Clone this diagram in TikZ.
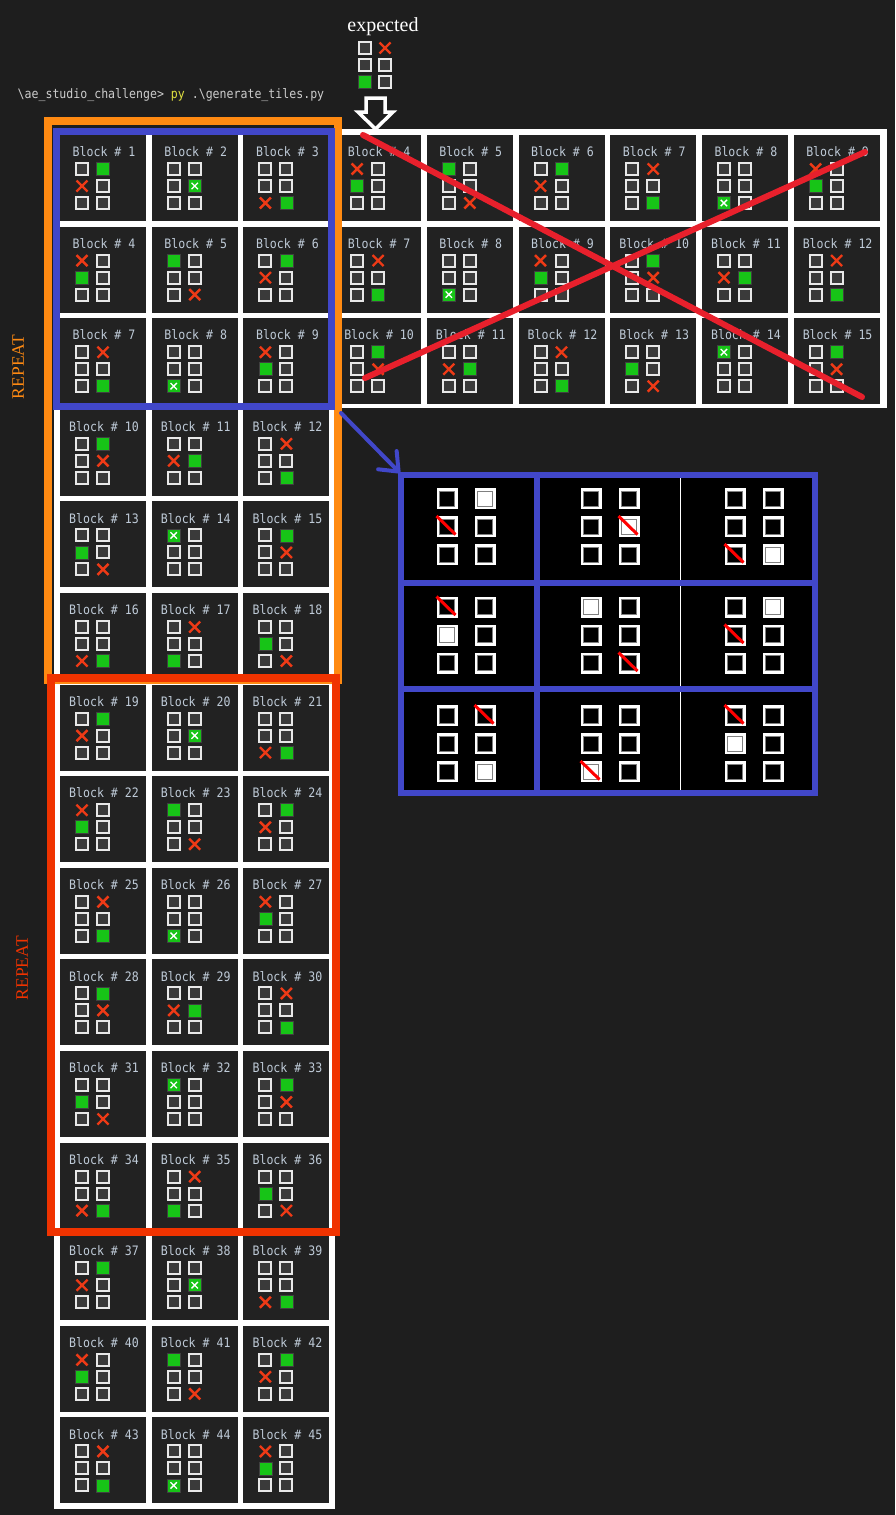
\documentclass[tikz,border=0pt]{standalone}
\usepackage{fontspec}
\usepackage{tikz}
\usetikzlibrary{arrows.meta}

\newfontfamily\monofont[FakeStretch=0.89]{DejaVu Sans Mono}
\newfontfamily\seriffont{Liberation Serif}

\definecolor{bgc}{HTML}{1E1E1E}
\definecolor{tilebgc}{HTML}{222222}
\definecolor{sqgrayc}{HTML}{3A3A3A}
\definecolor{sqwhitec}{HTML}{E8E8E8}
\definecolor{greenc}{HTML}{17C417}
\definecolor{xredc}{HTML}{EE3A16}
\definecolor{labelc}{HTML}{BFCBD8}
\definecolor{orangec}{HTML}{FF8A12}
\definecolor{redboxc}{HTML}{F03300}
\definecolor{bluec}{HTML}{4147C9}
\definecolor{crossc}{HTML}{E8202C}
\definecolor{pyc}{HTML}{E0E040}
\definecolor{cmdc}{HTML}{CCCCCC}

% green cell (pgc,pgr) and cross cell (pxc,pxr) of each pattern
\newcommand{\getpattern}[1]{%
  \ifcase#1\or
    \def\pgc{1}\def\pgr{0}\def\pxc{0}\def\pxr{1}\or % 1
    \def\pgc{1}\def\pgr{1}\def\pxc{1}\def\pxr{1}\or % 2
    \def\pgc{1}\def\pgr{2}\def\pxc{0}\def\pxr{2}\or % 3
    \def\pgc{0}\def\pgr{1}\def\pxc{0}\def\pxr{0}\or % 4
    \def\pgc{0}\def\pgr{0}\def\pxc{1}\def\pxr{2}\or % 5
    \def\pgc{1}\def\pgr{0}\def\pxc{0}\def\pxr{1}\or % 6
    \def\pgc{1}\def\pgr{2}\def\pxc{1}\def\pxr{0}\or % 7
    \def\pgc{0}\def\pgr{2}\def\pxc{0}\def\pxr{2}\or % 8
    \def\pgc{0}\def\pgr{1}\def\pxc{0}\def\pxr{0}\or % 9
    \def\pgc{1}\def\pgr{0}\def\pxc{1}\def\pxr{1}\or % 10
    \def\pgc{1}\def\pgr{1}\def\pxc{0}\def\pxr{1}\or % 11
    \def\pgc{1}\def\pgr{2}\def\pxc{1}\def\pxr{0}\or % 12
    \def\pgc{0}\def\pgr{1}\def\pxc{1}\def\pxr{2}\or % 13
    \def\pgc{0}\def\pgr{0}\def\pxc{0}\def\pxr{0}\or % 14
    \def\pgc{1}\def\pgr{0}\def\pxc{1}\def\pxr{1}\or % 15
    \def\pgc{1}\def\pgr{2}\def\pxc{0}\def\pxr{2}\or % 16
    \def\pgc{0}\def\pgr{2}\def\pxc{1}\def\pxr{0}\or % 17
    \def\pgc{0}\def\pgr{1}\def\pxc{1}\def\pxr{2}% 18
  \fi}

% cross at (#1,#2), half size #3, style #4
\newcommand{\xmark}[4]{%
  \draw[#4] ({#1-#3},{#2-#3}) -- ({#1+#3},{#2+#3}) ({#1-#3},{#2+#3}) -- ({#1+#3},{#2-#3});}

% one tile: top left #1,#2, pattern #3, number #4, node name #5
\newcommand{\drawblock}[5]{%
  \getpattern{#3}%
  \fill[tilebg] (#1,#2) rectangle ++(86,86);
  \node[tilelabel] (#5) at ({#1+44},{#2+21.7}) {Block \# #4};
  \foreach \cc in {0,1}
    \foreach \rr in {0,1,2}{
      \def\skipcell{0}%
      \ifnum\cc\rr=\pgc\pgr\relax\def\skipcell{1}\fi
      \ifnum\cc\rr=\pxc\pxr\relax\def\skipcell{1}\fi
      \ifnum\skipcell=0
        \draw[emptysq] ({#1+16+21*\cc},{#2+28+17*\rr}) rectangle ++(12,12);
      \fi}
  \draw[greensq] ({#1+15.5+21*\pgc},{#2+27.5+17*\pgr}) rectangle ++(13,13);
  \ifnum\pgc\pgr=\pxc\pxr\relax
    \xmark{#1+22+21*\pxc}{#2+34+17*\pxr}{3.2}{whitex}%
  \else
    \xmark{#1+22+21*\pxc}{#2+34+17*\pxr}{5.5}{redx}%
  \fi}

\begin{document}
\begin{tikzpicture}[x=1pt,y=-1pt,
    tilebg/.style={fill=tilebgc},
    tilelabel/.style={anchor=base,inner sep=0pt,text=labelc,font=\monofont\fontsize{13}{15}\selectfont},
    emptysq/.style={draw=sqwhitec,fill=sqgrayc,line width=2pt},
    greensq/.style={draw=black!75,fill=greenc,line width=0.8pt},
    redx/.style={draw=xredc,line width=2.4pt},
    whitex/.style={draw=white,line width=1.3pt},
    panelsq/.style={draw=white,fill=black,line width=2.5pt},
    panelline/.style={draw=bluec,line width=6pt},
    slash/.style={draw=red,line width=3pt},
    bluearrow/.style={draw=bluec,line width=4pt,line cap=round,-{Straight Barb[length=16pt,width=26pt,round]}}]
	% Background
	\useasboundingbox (0,0) rectangle (895,1515);
	\fill[bgc] (0,0) rectangle (895,1515);
	
	% Command line and expected tile
	\node[anchor=base west,inner sep=0pt,text=cmdc,font=\monofont\fontsize{13}{15}\selectfont] (cmd) at (17.5,98)
	  {\textbackslash ae\_studio\_challenge> {\color{pyc}py} .\textbackslash generate\_tiles.py};
	\node[anchor=base,inner sep=0pt,text=white,font=\seriffont\fontsize{20}{22}\selectfont] (expected) at (383,31.7) {expected};
	\foreach \cc/\rr in {0/0,0/1,1/1,1/2}
	  \draw[emptysq] ({358.7+20.3*\cc},{42+17*\rr}) rectangle ++(12,12);
	\draw[greensq] (358.2,75) rectangle ++(13,13);
	\xmark{385}{48}{5.5}{redx}
	\draw[white,line width=3.5pt,fill=bgc] (366,98) -- (385,98) -- (385,112) -- (393,112)
	  -- (375.5,129) -- (358,112) -- (366,112) -- cycle;
	
	% White frames behind the tiles
	\fill[white] (54,129) rectangle (887,408);
	\fill[white] (54,129) rectangle (335,1509);
	
	% Tiles 1 to 45
	\foreach \n in {1,...,45}{
	  \pgfmathtruncatemacro\brow{(\n-1)/3}
	  \pgfmathtruncatemacro\bcol{mod(\n-1,3)}
	  \pgfmathtruncatemacro\pat{mod(\n-1,18)+1}
	  \pgfmathsetmacro\bx{60+91.7*\bcol}
	  \pgfmathsetmacro\by{135+91.6*\brow}
	  \drawblock{\bx}{\by}{\pat}{\n}{block-\n}
	}
	
	% Shifted tiles on the right
	\foreach \brow in {0,1,2}
	  \foreach \bcol in {3,...,8}{
	    \pgfmathtruncatemacro\num{3*\brow+\bcol+1}
	    \pgfmathsetmacro\bx{60+91.7*\bcol}
	    \pgfmathsetmacro\by{135+91.6*\brow}
	    \drawblock{\bx}{\by}{\num}{\num}{copy-\brow-\bcol}
	  }
	\draw[crossc,line width=6pt,line cap=round] (363,135) -- (862,397) (365,378) -- (865,152);
	
	% Frames
	\draw[orangec,line width=8pt] (47.5,121) rectangle (338,680);
	\draw[bluec,line width=7pt] (56,131) rectangle (331,406);
	\draw[redboxc,line width=8pt] (51,678) rectangle (336,1232);
	\node[rotate=90,inner sep=0pt,text=orangec,font=\seriffont\fontsize{17.5}{20}\selectfont] (repeat-a) at (18,367) {REPEAT};
	\node[rotate=90,inner sep=0pt,text=redboxc,font=\seriffont\fontsize{17.5}{20}\selectfont] (repeat-b) at (22,968) {REPEAT};
	
	% Enlarged tiles 1 to 9
	\fill[black] (401,475) rectangle (815,793);
	\draw[white,line width=1pt] (680,475) -- (680,793);
	\foreach \prow in {0,1,2}
	  \foreach \pcol in {0,1,2}{
	    \pgfmathtruncatemacro\pat{3*\prow+\pcol+1}
	    \getpattern{\pat}
	    \pgfmathsetmacro\px{447+144*\pcol}
	    \pgfmathsetmacro\py{498.5+108.5*\prow}
	    \foreach \cc in {0,1}
	      \foreach \rr in {0,1,2}
	        \draw[panelsq] ({\px+38*\cc-9.25},{\py+28*\rr-9.25}) rectangle ++(18.5,18.5);
	    \fill[white] ({\px+38*\pgc-8},{\py+28*\pgr-8}) rectangle ++(16,16);
	    \foreach \cc in {0,1}
	      \foreach \rr in {0,1,2}
	        \draw[gray,line width=0.6pt] ({\px+38*\cc-7.6},{\py+28*\rr-7.6}) rectangle ++(15.2,15.2);
	    \draw[slash] ({\px+38*\pxc-10.5},{\py+28*\pxr-10.5}) -- ++(19,18.5);
	  }
	\draw[panelline] (537,475) -- (537,793) (401,583) -- (815,583) (401,689) -- (815,689);
	\draw[panelline] (401,475) rectangle (815,793);
	
	% Arrow to the enlarged tiles
	\coordinate (blue-se) at (341,413);
	\coordinate (panel-nw) at (400,473);
	\draw[bluearrow] (blue-se) -- (panel-nw);
\end{tikzpicture}
\end{document}
